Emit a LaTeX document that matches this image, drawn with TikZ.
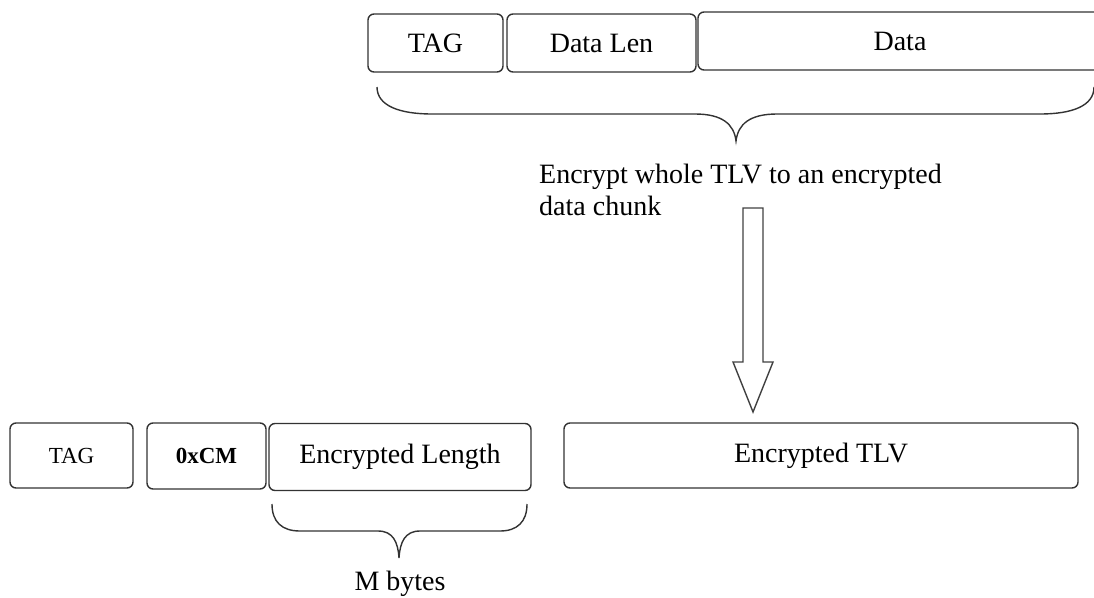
\documentclass[tikz,border=0pt]{standalone}
\usepackage{fontspec}
\setmainfont{Liberation Serif}
\begin{document}
\begin{tikzpicture}[x=1pt,y=-1pt,
  box/.style={draw=black!80, line width=1.4pt, rounded corners=6pt, inner sep=0pt,
              font=\fontsize{28}{32}\selectfont},
  smallbox/.style={box, font=\fontsize{23}{26}\selectfont},
  brace/.style={draw=black!80, line width=1.4pt},
  label/.style={inner sep=0pt, font=\fontsize{28}{32}\selectfont}]
\useasboundingbox (0,0) rectangle (1094,597);
% top TLV
\node[box, minimum width=135pt, minimum height=58pt] (tag) at (435.5,43) {TAG};
\node[box, minimum width=189pt, minimum height=58pt] (len) at (601.5,43) {Data Len};
\node[box, minimum width=404pt, minimum height=58pt] (data) at (900,41) {Data};
% top brace
\coordinate (b1) at (377,87);
\coordinate (b2) at (1094,87);
\coordinate (bt) at (736,141);
\draw[brace] (b1) .. controls (377,106) and (400,114) .. (432,114) -- (695,114)
  .. controls (722,114) and (734,124) .. (bt)
  .. controls (738,124) and (750,114) .. (777,114) -- (1040,114)
  .. controls (1072,114) and (1094,106) .. (b2);
% description
\node[label, anchor=north west, align=left] (desc) at (539,164)
  {Encrypt whole TLV to an encrypted\\data chunk};
% bottom
\node[smallbox, minimum width=123pt, minimum height=65pt] (tag2) at (71.5,455.5) {TAG};
\node[smallbox, minimum width=119pt, minimum height=66pt, font=\fontsize{23}{26}\selectfont\bfseries] (cm) at (206.5,456) {0xCM};
\node[box, minimum width=262pt, minimum height=67pt] (elen) at (400,457) {Encrypted Length};
\node[box, minimum width=514pt, minimum height=65pt] (etlv) at (821,455.5) {Encrypted TLV};
% bottom brace
\coordinate (c1) at (272,504);
\coordinate (c2) at (527,504);
\coordinate (ct) at (399,558);
\draw[brace] (c1) .. controls (272,522) and (282,531) .. (300,531) -- (378,531)
  .. controls (393,531) and (398,542) .. (ct)
  .. controls (400,542) and (405,531) .. (420,531) -- (500,531)
  .. controls (517,531) and (527,522) .. (c2);
\node[label, anchor=base] (mb) at (400,590) {M bytes};
% hollow arrow
\draw[draw=black!75, line width=1.4pt, line join=miter]
  (743,208) -- (763,208) -- (763,362) -- (773,362) -- (753,412) -- (733,362) -- (743,362) -- cycle;
\end{tikzpicture}
\end{document}
